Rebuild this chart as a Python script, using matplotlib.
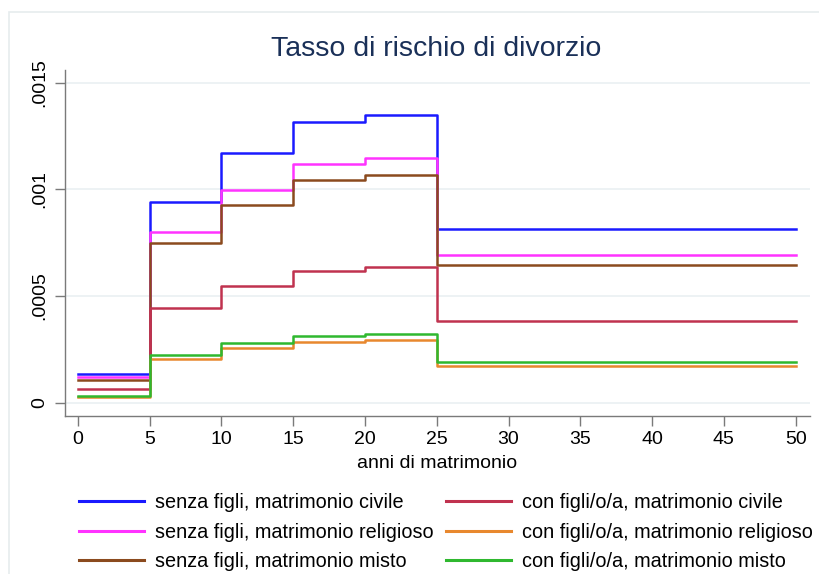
import matplotlib
matplotlib.use("Agg")
import matplotlib.pyplot as plt
from matplotlib.patches import Rectangle

plt.rcParams['font.family'] = ['Liberation Sans', 'DejaVu Sans']

# interval edges (years of marriage)
edges = [0, 5, 10, 15, 20, 25, 50]

# hazard per interval: [0-5, 5-10, 10-15, 15-20, 20-25, 25-50]
senza_civile = [0.000136, 0.000940, 0.001170, 0.001315, 0.001348, 0.000814]
senza_religioso = [0.000120, 0.000800, 0.000997, 0.001120, 0.001147, 0.000692]
senza_misto = [0.000108, 0.000748, 0.000926, 0.001044, 0.001067, 0.000645]
con_civile = [0.000064, 0.000444, 0.000547, 0.000617, 0.000636, 0.000383]
con_religioso = [0.000027, 0.000205, 0.000257, 0.000285, 0.000294, 0.000172]
con_misto = [0.000030, 0.000224, 0.000280, 0.000313, 0.000322, 0.000191]

labels = [
    "senza figli, matrimonio civile",
    "senza figli, matrimonio religioso",
    "senza figli, matrimonio misto",
    "con figli/o/a, matrimonio civile",
    "con figli/o/a, matrimonio religioso",
    "con figli/o/a, matrimonio misto",
]
series = [senza_civile, senza_religioso, senza_misto, con_civile, con_religioso, con_misto]
colors = ["#1a1aff", "#ff33ff", "#8b4a1e", "#c0324f", "#e8882e", "#2fb82f"]

yticks = [0, 0.0005, 0.001, 0.0015]
ytick_labels = ["0", ".0005", ".001", ".0015"]
xticks = list(range(0, 55, 5))

fig = plt.figure(figsize=(8.2, 5.74), dpi=100)
fig.patch.set_facecolor("white")
# outer frame (light)
fig.patches.append(Rectangle((9 / 820, -0.1), 1.2, 1 - 12 / 574 + 0.1, transform=fig.transFigure,
                             facecolor="none", edgecolor="#e6ecee", lw=1.2))

ax = fig.add_axes([65 / 820, 1 - 416 / 574, (810 - 65) / 820, (416 - 70) / 574])
ax.set_facecolor("white")

handles = []
for vals, lab, col in zip(series, labels, colors):
    yy = vals + [vals[-1]]
    h, = ax.step(edges, yy, where="post", color=col, lw=1.8, label=lab)
    handles.append(h)

ax.set_xlim(-0.9, 51.0)
ax.set_ylim(-0.000062, 0.001559)
ax.set_xticks(xticks)
ax.set_yticks(yticks)
ax.set_yticklabels(ytick_labels, rotation=90, va="center")
ax.grid(axis="y", color="#eaf0f2", lw=1.2)
ax.set_axisbelow(True)
for s in ["top", "right"]:
    ax.spines[s].set_visible(False)
for s in ["left", "bottom"]:
    ax.spines[s].set_color("#7a7a7a")
    ax.spines[s].set_linewidth(1.0)
ax.tick_params(axis="both", colors="#7a7a7a", length=7, width=1.0, labelsize=14, labelcolor="black")
ax.tick_params(axis="y", pad=5)
ax.tick_params(axis="x", pad=4)

ax.set_xlabel("anni di matrimonio", fontsize=14, labelpad=5)
fig.text(436 / 820, 1 - 49 / 574, "Tasso di rischio di divorzio", ha="center", va="center",
         fontsize=20.5, color="#1a3058")

leg = fig.legend(handles=handles, labels=labels, ncol=2, loc="center",
                 bbox_to_anchor=(446 / 820, 1 - 532 / 574), frameon=False, fontsize=14.3,
                 handlelength=3.3, handletextpad=0.55, columnspacing=0.6, labelspacing=0.55)
for line in leg.get_lines():
    line.set_linewidth(2.2)

fig.savefig("out.png", dpi=100, facecolor="white")
